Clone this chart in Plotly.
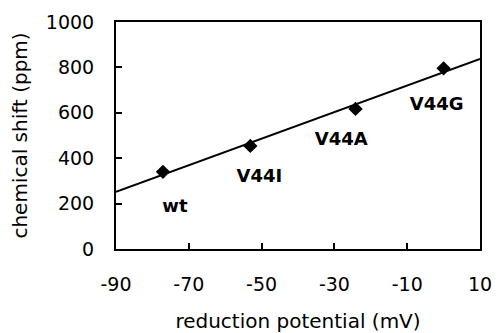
import plotly.graph_objects as go

# data
mutants = ["wt", "V44I", "V44A", "V44G"]
potential_mv = [-77.1, -53.1, -24.2, 0.0]
shift_ppm = [340, 454, 617, 796]

fit_x = [-90, 10]
fit_y = [252, 837]

label_x = [-73.8, -50.6, -28.1, -1.9]
label_y = [185, 317, 478, 630]

x_ticks = [-90, -70, -50, -30, -10, 10]
x_ticktext = ["-90", "-70", "-50", "-30", "-10", "10"]
y_ticks = [0, 200, 400, 600, 800, 1000]

FONT = "DejaVu Sans"

fig = go.Figure()
fig.add_trace(go.Scatter(x=fit_x, y=fit_y, mode="lines",
                         line=dict(color="black", width=2), showlegend=False))
fig.add_trace(go.Scatter(x=potential_mv, y=shift_ppm, mode="markers",
                         marker=dict(symbol="diamond", size=11, color="black"),
                         showlegend=False))
fig.add_trace(go.Scatter(x=label_x, y=label_y, mode="text", text=mutants,
                         textfont=dict(family=FONT, size=18, color="black", weight="bold"),
                         showlegend=False))

fig.update_layout(
    width=502, height=333,
    margin=dict(l=116, r=22, t=22, b=84),
    plot_bgcolor="white", paper_bgcolor="white",
    font=dict(family=FONT, size=16, color="black"),
)
fig.update_xaxes(
    range=[-90, 10], tickvals=x_ticks, ticktext=x_ticktext, ticks="inside", ticklen=6,
    tickwidth=1.5, tickcolor="black", showline=True, linecolor="black", linewidth=2,
    mirror=True, showgrid=False, zeroline=False, ticklabelstandoff=17, automargin=False,
    tickfont=dict(family=FONT, size=19),
    title=dict(text="reduction potential (mV)", font=dict(family=FONT, size=20), standoff=21),
)
fig.update_yaxes(
    range=[0, 1000], tickvals=y_ticks, ticks="inside", ticklen=6, tickwidth=1.5,
    tickcolor="black", showline=True, linecolor="black", linewidth=2, mirror=True,
    showgrid=False, zeroline=False, ticklabelstandoff=16, automargin=False,
    tickfont=dict(family=FONT, size=19),
    title=dict(text="chemical shift (ppm)", font=dict(family=FONT, size=20), standoff=13),
)

fig.write_html("out.html")
